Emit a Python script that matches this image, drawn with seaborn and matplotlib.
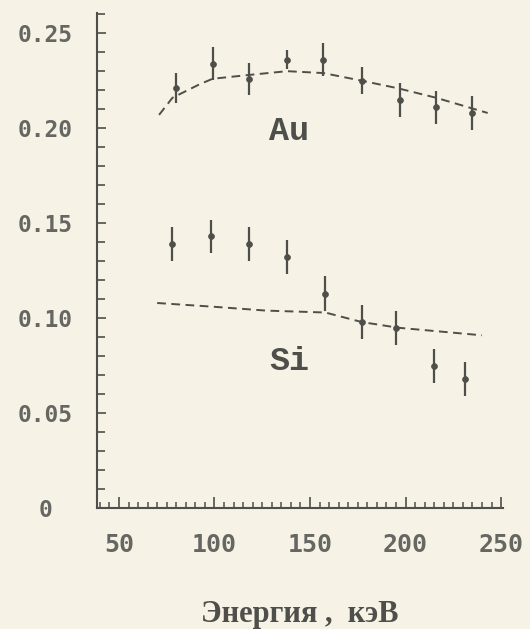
import matplotlib
matplotlib.use('Agg')
import matplotlib.pyplot as plt
from matplotlib.ticker import MultipleLocator
import seaborn as sns

# ── Data ─────────────────────────────────────────────────────────────────────
au_energy = [80, 99, 118, 138, 157, 177, 197, 216, 235]
au_value = [0.221, 0.234, 0.226, 0.236, 0.236, 0.225, 0.215, 0.211, 0.208]
au_err = [0.008, 0.0087, 0.0085, 0.005, 0.0087, 0.007, 0.009, 0.0087, 0.0087]

si_energy = [78, 98, 118, 138, 158, 177, 195, 215, 231]
si_value = [0.139, 0.143, 0.139, 0.132, 0.113, 0.098, 0.095, 0.075, 0.068]
si_err = [0.009, 0.0085, 0.009, 0.009, 0.009, 0.009, 0.009, 0.009, 0.0087]

au_fit_energy = [71, 78, 92, 99, 118, 138, 157, 177, 196, 216, 243]
au_fit_value = [0.207, 0.216, 0.223, 0.226, 0.228, 0.230, 0.229, 0.225, 0.221, 0.216, 0.208]

si_fit_energy = [70, 100, 127, 158, 177, 196, 240]
si_fit_value = [0.108, 0.106, 0.104, 0.103, 0.098, 0.095, 0.091]

x_ticks = [50, 100, 150, 200, 250]
y_ticks = [0, 0.05, 0.10, 0.15, 0.20, 0.25]
y_tick_labels = ['0', '0.05', '0.10', '0.15', '0.20', '0.25']

# ── Style ────────────────────────────────────────────────────────────────────
PAPER = '#f6f2e5'
INK = '#4e4e4a'
LABEL_INK = '#666662'

sns.set_style('ticks')
plt.rcParams['font.family'] = ['DejaVu Sans Mono', 'DejaVu Sans']

fig = plt.figure(figsize=(5.3, 6.29), dpi=100, facecolor=PAPER)
ax = fig.add_axes([0.183, 0.192, 0.766, 0.787])
ax.set_facecolor(PAPER)

dash = (0, (4.5, 2.8))
sns.lineplot(x=au_fit_energy, y=au_fit_value, ax=ax, color=INK, lw=1.4, linestyle=dash)
sns.lineplot(x=si_fit_energy, y=si_fit_value, ax=ax, color=INK, lw=1.4, linestyle=dash)

for xs, ys, es in [(au_energy, au_value, au_err), (si_energy, si_value, si_err)]:
    ax.errorbar(xs, ys, yerr=es, fmt='none', ecolor=INK, elinewidth=1.6, capsize=0)
    sns.scatterplot(x=xs, y=ys, ax=ax, color=INK, s=18, edgecolor=INK, linewidth=0.5, zorder=3)

ax.text(139, 0.198, 'Au', family='Liberation Mono', fontweight='bold', fontsize=24,
        color=INK, ha='center', va='center')
ax.text(139, 0.077, 'Si', family='Liberation Mono', fontweight='bold', fontsize=24,
        color=INK, ha='center', va='center')

ax.set_xlim(38.5, 251)
ax.set_ylim(0, 0.2605)

ax.set_xticks(x_ticks, labels=[str(t) for t in x_ticks], fontweight='bold')
ax.set_xticks(list(range(40, 251, 5)), minor=True)
ax.set_yticks(y_ticks, labels=y_tick_labels, fontweight='bold', ha='center')
ax.yaxis.set_minor_locator(MultipleLocator(0.01))

ax.tick_params(axis='both', which='both', direction='in', color=INK, width=1.2)
ax.tick_params(axis='x', which='major', length=8, pad=18, labelsize=18,
               labelcolor=LABEL_INK)
ax.tick_params(axis='x', which='minor', length=4.5, width=1.1)
ax.tick_params(axis='y', which='major', length=6.5, pad=37, labelsize=16.5,
               labelcolor=LABEL_INK)
ax.tick_params(axis='y', which='minor', length=6)

sns.despine(ax=ax)
for side in ['left', 'bottom']:
    ax.spines[side].set_color(INK)
    ax.spines[side].set_linewidth(1.5)

ax.set_xlabel('Энергия ,  кэВ', family=['Liberation Serif', 'DejaVu Serif'],
              fontweight='bold', fontsize=22, color=INK, labelpad=31)
ax.set_ylabel('')

fig.savefig('out.png', dpi=100, facecolor=PAPER)
